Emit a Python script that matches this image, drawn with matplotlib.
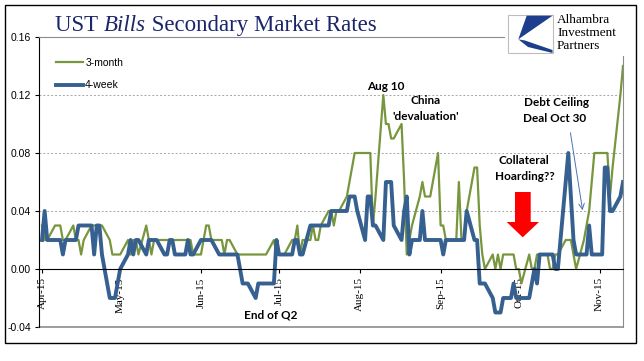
import numpy as np
import pandas as pd
import matplotlib
matplotlib.use('Agg')
import matplotlib.pyplot as plt
from matplotlib.patches import Rectangle, Polygon, FancyArrowPatch

# daily secondary market rates (business days, Apr 1 - Nov 10 2015), by month
m3_apr = [.03, .02, .02, .03, .03, .03, .02, .02, .03, .02, .02, .01, .02, .03, .03, .03, .03, .03, .02, .01, .01, .01]
m3_may = [.01, .02, .01, .02, .02, .01, .03, .02, .01, .02, .02, .02, .02, .02, .02, .02, .02, .02, .02, .02, .01]
m3_jun = [.01, .02, .03, .03, .02, .02, .02, .01, .02, .02, .01, .01, .01, .01, .01, .01, .01, .01, .01, .01, .02, .01]
m3_jul = [.01, .01, .01, .02, .02, .03, .01, .02, .02, .03, .02, .02, .03, .04, .04, .03, .04, .04, .05, .06, .07, .08, .08]
m3_aug = [.08, .08, .08, .03, .05, .12, .10, .10, .09, .09, .10, .06, .01, .02, .03, .05, .06, .05, .05, .05, .08]
m3_sep = [.03, .03, .02, .02, .02, .06, .02, .02, .04, .07, .07, .03, .01, .00, .01, .00, .01, .00, .01, .01, .01, .00]
m3_oct = [.00, -.01, .01, .00, .00, .01, .01, .01, .00, .00, .01, .01, .02, .02, .02, .01, .00, .02, .03, .04, .06, .08]
m3_nov = [.08, .08, .08, .05, .07, .12, .14]

w4_apr = [.02, .04, .02, .02, .02, .02, .01, .02, .02, .02, .03, .03, .03, .03, .01, .03, .03, .01, -.02, -.02, -.02, -.01]
w4_may = [.00, .01, .02, .01, .02, .02, .01, .02, .02, .02, .02, .01, .01, .02, .02, .01, .01, .01, .02, .01, .01]
w4_jun = [.02, .02, .02, .02, .02, .01, .01, .01, .01, .01, .01, .00, -.01, -.01, -.01, -.02, -.01, -.01, -.01, -.01, -.01, .02]
w4_jul = [.01, .01, .01, .01, .02, .02, .01, .01, .03, .03, .03, .03, .03, .03, .04, .04, .04, .04, .04, .05, .05, .05, .04]
w4_aug = [.02, .05, .05, .03, .03, .02, .06, .06, .06, .03, .02, .04, .05, .01, .02, .02, .04, .02, .02, .02, .02]
w4_sep = [.02, .01, .02, .02, .02, .02, .02, .02, .04, .02, .02, -.01, -.01, -.01, -.02, -.03, -.03, -.03, -.02, -.02, -.01, -.02]
w4_oct = [-.02, -.02, -.02, -.01, .00, -.01, .01, .01, .01, .01, .00, .00, .06, .08, .05, .02, .01, .01, .01, .03, .01, .01]
w4_nov = [.01, .07, .07, .04, .04, .05, .06]

month_ticks = ['2015-04-01', '2015-05-01', '2015-06-01', '2015-07-01',
               '2015-08-01', '2015-09-01', '2015-10-01', '2015-11-01']
month_labels = ['Apr-15', 'May-15', 'Jun-15', 'Jul-15', 'Aug-15', 'Sep-15', 'Oct-15', 'Nov-15']
y_ticks = [-0.04, 0.00, 0.04, 0.08, 0.12, 0.16]
y_labels = ['-0.04', '0.00', '0.04', '0.08', '0.12', '0.16']

dates = pd.bdate_range('2015-04-01', '2015-11-10')
m3 = m3_apr + m3_may + m3_jun + m3_jul + m3_aug + m3_sep + m3_oct + m3_nov
w4 = w4_apr + w4_may + w4_jun + w4_jul + w4_aug + w4_sep + w4_oct + w4_nov

GREEN = '#77963D'
BLUE = '#36608F'
GREY = '#8C8C8C'

W, H = 644, 361
fig = plt.figure(figsize=(W / 100, H / 100), dpi=100)


def fx(x):
    return x / W


def fy(y):
    return 1 - y / H


ax = fig.add_axes([fx(39), fy(327), (623 - 39) / W, (327 - 37) / H])
ax.plot(dates, m3, color=GREEN, lw=1.6, label='3-month')
ax.plot(dates, w4, color=BLUE, lw=2.8, label='4-week')

ax.set_ylim(-0.04, 0.16)
ax.set_xlim(pd.Timestamp('2015-04-01') - pd.Timedelta(hours=28), pd.Timestamp('2015-11-10'))

for g in [0.04, 0.08, 0.12]:
    ax.axhline(g, color='#A6A6A6', lw=0.7, ls=(0, (2, 2)), zorder=0)
ax.axhline(-0.04, color=GREY, lw=1.2, clip_on=False)

ax.spines['bottom'].set_position(('data', 0))
ax.spines['bottom'].set_color('black')
ax.spines['left'].set_color('black')
for s in ['top', 'right']:
    ax.spines[s].set_color(GREY)

ax.set_yticks(y_ticks)
ax.set_yticklabels(y_labels, family='Liberation Sans', size=7.5)
ax.set_xticks(pd.to_datetime(month_ticks))
ax.set_xticklabels(month_labels, rotation=90, family='Liberation Serif', size=8)
ax.tick_params(axis='both', direction='out', length=3, width=0.8, pad=3)

leg = ax.legend(loc='upper left', bbox_to_anchor=(fx(56), fy(58)), bbox_transform=fig.transFigure,
                frameon=False, handlelength=2.6, handletextpad=0.2, labelspacing=1.2,
                borderpad=0, borderaxespad=0, prop={'family': 'Liberation Sans', 'size': 7.5})

# title with italic "Bills"
renderer = fig.canvas.get_renderer()
x0 = fx(55)
for piece, style in [('UST ', 'normal'), ('Bills', 'italic'), (' Secondary Market Rates', 'normal')]:
    t = fig.text(x0, fy(31), piece, family='Liberation Serif', size=16.5, style=style,
                 color='#1B2569', va='baseline', ha='left')
    x0 += t.get_window_extent(renderer).width / W

# logo
fig.add_artist(Rectangle((fx(505), fy(56)), 127 / W, 49 / H, transform=fig.transFigure,
                         facecolor='white', edgecolor='none', zorder=5))
fig.add_artist(Rectangle((fx(508), fy(53)), 45 / W, 38 / H, transform=fig.transFigure,
                         facecolor='white', edgecolor='#BDBDBD', lw=0.8, zorder=6))
logo_a = [(526.7, 15.7), (552.5, 15.7), (518.3, 39.3)]
logo_b = [(518.3, 39.3), (528, 47), (552.5, 53), (552.5, 50), (538, 45), (525, 40.5)]
for pts in [logo_a, logo_b]:
    fig.add_artist(Polygon([(fx(a), fy(b)) for a, b in pts], closed=True, transform=fig.transFigure,
                           facecolor='#1D3E8C', edgecolor='none', zorder=7))
for i, word in enumerate(['Alhambra', 'Investment', 'Partners']):
    fig.text(fx(557), fy(20 + 13 * i), word, family='Liberation Serif', size=9.5,
             va='center', ha='left', zorder=8)

# annotations
ann = dict(family=['Lato', 'DejaVu Sans'], weight='bold', size=8.5, ha='center', va='center')
fig.text(fx(386), fy(86), 'Aug 10', **ann)
fig.text(fx(426), fy(100), 'China', **ann)
fig.text(fx(426), fy(116), "'devaluation'", **ann)
fig.text(fx(524), fy(160), 'Collateral', **ann)
fig.text(fx(525), fy(177), 'Hoarding??', **ann)
fig.text(fx(556), fy(102), 'Debt Ceiling', **ann)
fig.text(fx(555), fy(118), 'Deal Oct 30', **ann)
fig.text(fx(271), fy(315), 'End of Q2', **ann)

red = [(515, 192), (530.7, 192), (530.7, 222), (539, 222), (522.7, 237.3), (506.7, 222), (515, 222)]
fig.add_artist(Polygon([(fx(a), fy(b)) for a, b in red], closed=True, transform=fig.transFigure,
                       facecolor='#FF0000', edgecolor='none', zorder=6))
fig.add_artist(FancyArrowPatch((fx(570), fy(130)), (fx(583), fy(213)), transform=fig.transFigure,
                               arrowstyle='->,head_length=4,head_width=2', color='#4A74B0',
                               lw=0.7, zorder=6))

# outer frame
fig.add_artist(Rectangle((fx(5), fy(343)), 631 / W, 338 / H, transform=fig.transFigure,
                         fill=False, edgecolor='black', lw=1, zorder=10))

fig.savefig('out.png', dpi=100)
